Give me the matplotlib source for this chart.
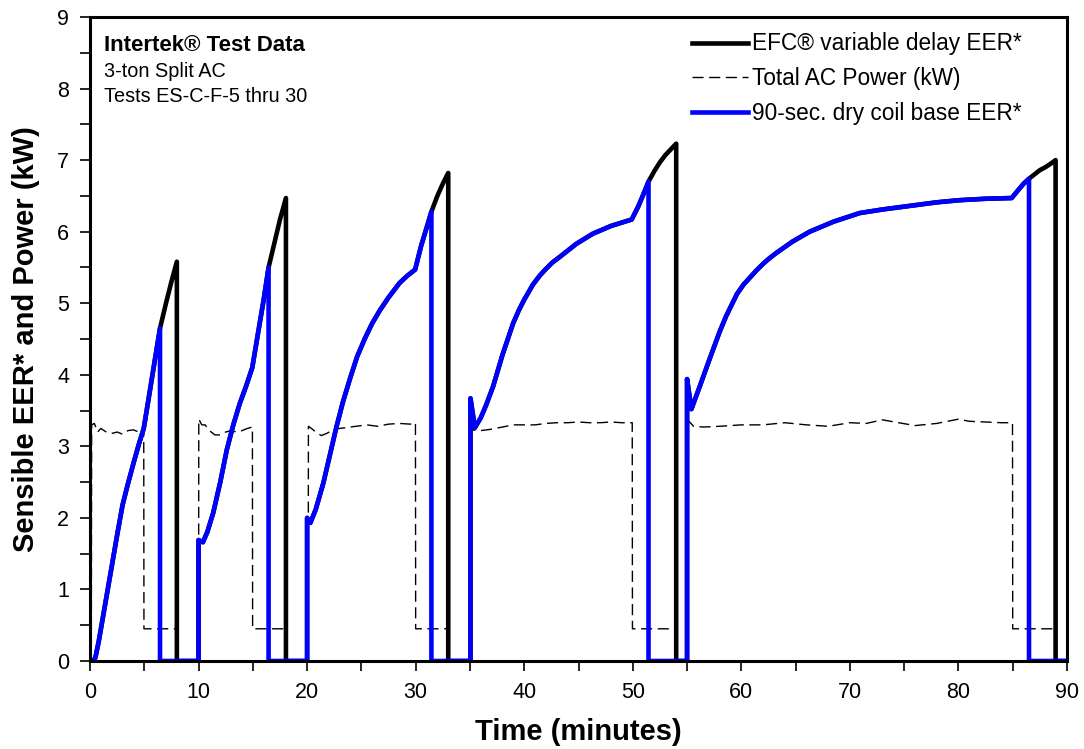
import matplotlib
matplotlib.use("Agg")
import matplotlib.pyplot as plt
from matplotlib.lines import Line2D

plt.rcParams['font.family'] = ['Liberation Sans', 'DejaVu Sans']

# ---- Data (time in minutes) ----
# 90-sec. dry coil base EER* (blue)
base_t = [0.0, 0.3, 0.5, 0.8, 1.2, 1.6, 2.0, 2.5, 3.0, 3.5, 4.0, 4.5, 4.95, 5.5, 6.0, 6.45, 6.45,
          10.0, 10.0, 10.4, 10.8, 11.35, 12.0, 12.6, 13.2, 13.8, 14.4, 14.95, 15.5, 16.0, 16.45, 16.45,
          20.0, 20.0, 20.3, 20.8, 21.5, 22.1, 22.7, 23.3, 24.0, 24.6, 25.3, 26.0, 26.7, 27.5, 28.5, 29.2, 29.95, 30.5, 31.0, 31.45, 31.45,
          35.05, 35.05, 35.45, 36.0, 36.5, 37.14, 38.0, 38.98, 39.5, 40.0, 40.8, 41.4, 42.0, 42.6, 43.3, 44.8, 46.3, 48.0, 49.9, 50.5, 51.0, 51.45, 51.45,
          55.0, 55.0, 55.4, 56.2, 57.1, 58.0, 58.6, 59.6, 60.2, 60.8, 61.4, 62.0, 62.6, 63.2, 64.7, 66.3, 68.5, 70.9, 73.0, 75.5, 78.0, 80.1, 82.5, 84.9, 85.5, 86.0, 86.5, 86.5,
          90.0]
base_eer = [0.0, 0.0, 0.05, 0.27, 0.62, 0.97, 1.32, 1.76, 2.18, 2.48, 2.76, 3.03, 3.25, 3.76, 4.23, 4.65, 0.0,
            0.0, 1.69, 1.66, 1.8, 2.07, 2.5, 2.95, 3.3, 3.6, 3.85, 4.1, 4.6, 5.05, 5.5, 0.0,
            0.0, 2.0, 1.93, 2.12, 2.49, 2.88, 3.27, 3.62, 3.97, 4.25, 4.5, 4.72, 4.9, 5.08, 5.28, 5.38, 5.47, 5.8, 6.05, 6.28, 0.0,
            0.0, 3.67, 3.26, 3.4, 3.58, 3.84, 4.28, 4.72, 4.9, 5.05, 5.26, 5.38, 5.48, 5.57, 5.65, 5.83, 5.97, 6.08, 6.17, 6.35, 6.53, 6.70, 0.0,
            0.0, 3.94, 3.52, 3.85, 4.23, 4.6, 4.82, 5.13, 5.26, 5.36, 5.46, 5.55, 5.63, 5.70, 5.86, 6.0, 6.14, 6.26, 6.31, 6.36, 6.41, 6.44, 6.46, 6.47, 6.58, 6.67, 6.74, 0.0,
            0.0]

# EFC variable delay EER* (black) - same as base until base drop, then extends
efc_t = [0.0, 0.3, 0.5, 0.8, 1.2, 1.6, 2.0, 2.5, 3.0, 3.5, 4.0, 4.5, 4.95, 5.5, 6.0, 6.45, 7.0, 7.5, 8.0, 8.0,
         10.0, 10.0, 10.4, 10.8, 11.35, 12.0, 12.6, 13.2, 13.8, 14.4, 14.95, 15.5, 16.0, 16.45, 17.0, 17.5, 18.05, 18.05,
         20.0, 20.0, 20.3, 20.8, 21.5, 22.1, 22.7, 23.3, 24.0, 24.6, 25.3, 26.0, 26.7, 27.5, 28.5, 29.2, 29.95, 30.5, 31.0, 31.45, 32.0, 32.5, 33.0, 33.0,
         35.05, 35.05, 35.45, 36.0, 36.5, 37.14, 38.0, 38.98, 39.5, 40.0, 40.8, 41.4, 42.0, 42.6, 43.3, 44.8, 46.3, 48.0, 49.9, 50.5, 51.0, 51.45, 52.0, 52.5, 53.0, 53.5, 54.0, 54.0,
         55.0, 55.0, 55.4, 56.2, 57.1, 58.0, 58.6, 59.6, 60.2, 60.8, 61.4, 62.0, 62.6, 63.2, 64.7, 66.3, 68.5, 70.9, 73.0, 75.5, 78.0, 80.1, 82.5, 84.9, 85.5, 86.0, 86.5, 87.0, 87.5, 88.0, 88.5, 88.95, 88.95,
         90.0]
efc_eer = [0.0, 0.0, 0.05, 0.27, 0.62, 0.97, 1.32, 1.76, 2.18, 2.48, 2.76, 3.03, 3.25, 3.76, 4.23, 4.65, 5.0, 5.3, 5.58, 0.0,
           0.0, 1.69, 1.66, 1.8, 2.07, 2.5, 2.95, 3.3, 3.6, 3.85, 4.1, 4.6, 5.05, 5.5, 5.85, 6.17, 6.47, 0.0,
           0.0, 2.0, 1.93, 2.12, 2.49, 2.88, 3.27, 3.62, 3.97, 4.25, 4.5, 4.72, 4.9, 5.08, 5.28, 5.38, 5.47, 5.8, 6.05, 6.28, 6.5, 6.67, 6.82, 0.0,
           0.0, 3.67, 3.26, 3.4, 3.58, 3.84, 4.28, 4.72, 4.9, 5.05, 5.26, 5.38, 5.48, 5.57, 5.65, 5.83, 5.97, 6.08, 6.17, 6.35, 6.53, 6.70, 6.85, 6.97, 7.07, 7.15, 7.23, 0.0,
           0.0, 3.94, 3.52, 3.85, 4.23, 4.6, 4.82, 5.13, 5.26, 5.36, 5.46, 5.55, 5.63, 5.70, 5.86, 6.0, 6.14, 6.26, 6.31, 6.36, 6.41, 6.44, 6.46, 6.47, 6.58, 6.67, 6.74, 6.80, 6.86, 6.90, 6.95, 7.0, 0.0,
           0.0]

# Total AC Power (kW) (dashed)
power_t = [0.0, 0.12, 0.15, 0.4, 0.7, 1.0, 1.5, 2.0, 2.5, 3.0, 3.5, 4.0, 4.5, 4.95, 4.97, 8.0, 8.0,
           10.0, 10.02, 10.3, 10.6, 11.0, 11.5, 12.0, 12.5, 13.0, 13.5, 14.0, 14.5, 14.96, 14.98, 18.0, 18.0,
           20.1, 20.12, 20.4, 20.8, 21.3, 21.8, 22.5, 23.5, 24.5, 25.5, 26.5, 27.5, 28.5, 29.5, 29.98, 30.0, 33.0, 33.0,
           35.1, 35.12, 36.0, 37.0, 38.0, 39.0, 40.0, 41.0, 42.0, 43.0, 44.0, 45.0, 46.0, 47.0, 48.0, 49.0, 49.95, 49.97, 54.0, 54.0,
           55.1, 55.12, 55.6, 56.5, 58.0, 60.0, 62.0, 64.0, 66.0, 68.0, 70.0, 71.5, 73.0, 74.5, 76.0, 78.0, 80.0, 81.0, 82.5, 84.0, 84.98, 85.0, 88.9, 88.9,
           90.0]
power_kw = [0.0, 0.0, 3.3, 3.32, 3.2, 3.25, 3.2, 3.18, 3.2, 3.17, 3.22, 3.23, 3.2, 3.26, 0.45, 0.45, 0.0,
            0.0, 3.38, 3.3, 3.3, 3.22, 3.16, 3.16, 3.2, 3.22, 3.2, 3.22, 3.25, 3.27, 0.45, 0.45, 0.0,
            0.0, 3.28, 3.25, 3.2, 3.15, 3.18, 3.24, 3.26, 3.28, 3.3, 3.28, 3.31, 3.32, 3.31, 3.33, 0.45, 0.45, 0.0,
            0.0, 3.23, 3.22, 3.24, 3.27, 3.3, 3.3, 3.3, 3.32, 3.33, 3.33, 3.34, 3.33, 3.33, 3.34, 3.33, 3.33, 0.45, 0.45, 0.0,
            0.0, 3.36, 3.28, 3.27, 3.28, 3.3, 3.3, 3.33, 3.3, 3.28, 3.33, 3.32, 3.37, 3.33, 3.29, 3.32, 3.38, 3.35, 3.34, 3.33, 3.33, 0.45, 0.45, 0.0,
            0.0]

labels = ["EFC\u00ae variable delay EER*", "Total AC Power (kW)", "90-sec. dry coil base EER*"]
note_title = "Intertek\u00ae Test Data"
note_lines = ["3-ton Split AC", "Tests ES-C-F-5 thru 30"]
x_label = "Time (minutes)"
y_label = "Sensible EER* and Power (kW)"

# ---- Figure ----
fig = plt.figure(figsize=(10.84, 7.49), dpi=100)
ax = fig.add_axes([90 / 1084, 1 - 661 / 749, (1067 - 90) / 1084, (661 - 17) / 749])

LW = 3.3
ax.plot(efc_t, efc_eer, color='black', lw=LW, solid_joinstyle='round', zorder=3)
ax.plot(power_t, power_kw, color='black', lw=1.0, linestyle=(0, (8, 4)), zorder=4)
ax.plot(base_t, base_eer, color='#0000ff', lw=LW, solid_joinstyle='round', zorder=5)

ax.set_xlim(0, 90)
ax.set_ylim(0, 9)
ax.set_xticks(range(0, 91, 10))
ax.set_xticks(range(0, 91, 5), minor=True)
ax.set_yticks(range(0, 10))
ax.set_yticks([i + 0.5 for i in range(9)], minor=True)
ax.tick_params(which='both', direction='out', length=7, width=1.2, color='black')
ax.tick_params(axis='both', which='major', labelsize=15.5, pad=8)
for sp in ax.spines.values():
    sp.set_linewidth(2.2)
    sp.set_zorder(6)

ax.set_xlabel(x_label, fontsize=21, fontweight='bold', labelpad=11)
ax.set_ylabel(y_label, fontsize=21, fontweight='bold', labelpad=12)

handles = [Line2D([], [], color='black', lw=LW),
           Line2D([], [], color='black', lw=1.0, linestyle=(0, (8, 4))),
           Line2D([], [], color='#0000ff', lw=LW)]
ax.legend(handles, labels, loc='upper left', bbox_to_anchor=(0.616, 0.976), frameon=False,
          fontsize=16.3, handlelength=2.5, handletextpad=0.15, labelspacing=0.52, borderpad=0,
          borderaxespad=0)

ax.text(0.014, 0.955, note_title, transform=ax.transAxes, fontsize=16, fontweight='bold',
        va='center', ha='left')
ax.text(0.014, 0.915, note_lines[0], transform=ax.transAxes, fontsize=14.3, va='center', ha='left')
ax.text(0.014, 0.876, note_lines[1], transform=ax.transAxes, fontsize=14.3, va='center', ha='left')

fig.savefig('out.png', dpi=100)
